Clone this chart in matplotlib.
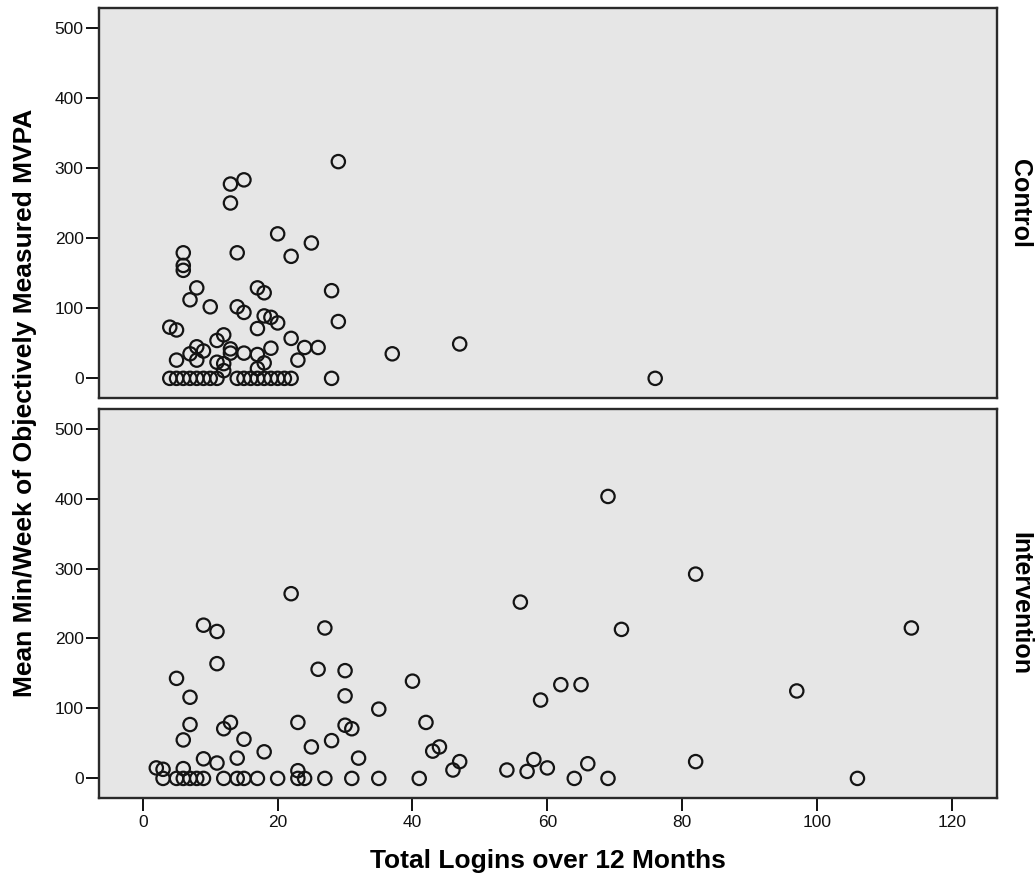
import matplotlib
matplotlib.use("Agg")
from matplotlib import pyplot as plt

plt.rcParams["font.family"] = ["Liberation Sans", "DejaVu Sans"]

# Control group: total logins vs mean min/week MVPA
ctrl_logins = [29, 15, 13, 13, 20, 25, 22, 14, 6, 6,
               6, 8, 7, 10, 17, 18, 28, 14, 15, 18,
               19, 20, 17, 29, 4, 5, 12, 11, 22, 24,
               26, 19, 8, 7, 9, 13, 13, 15, 17, 5,
               8, 11, 12, 23, 18, 12, 17, 28, 37, 47,
               76,
               4, 5, 6, 7, 8, 9, 10, 11,
               14, 15, 16, 17, 18, 19, 20, 21, 22]
ctrl_mvpa = [309, 283, 277, 250, 206, 193, 174, 179, 179, 161,
             154, 129, 112, 102, 129, 122, 125, 102, 94, 89,
             87, 79, 71, 81, 73, 69, 62, 54, 57, 44,
             44, 43, 45, 35, 39, 42, 36, 36, 34, 26,
             26, 23, 21, 26, 22, 11, 14, 0, 35, 49,
             0,
             0, 0, 0, 0, 0, 0, 0, 0,
             0, 0, 0, 0, 0, 0, 0, 0, 0]

# Intervention group
int_logins = [22, 9, 11, 27, 11, 26, 30, 5, 7, 30,
              35, 7, 13, 12, 23, 30, 31, 6, 15, 28,
              25, 18, 9, 14, 11, 32, 2, 3, 6, 23,
              3, 5, 6, 7, 8, 9, 12, 14, 15, 17,
              20, 23, 24, 27, 31, 35, 41, 64, 69,
              56, 71, 69, 82, 40, 42, 59, 62, 65, 43,
              44, 47, 46, 54, 57, 58, 60, 66, 82, 97,
              106, 114]
int_mvpa = [264, 219, 210, 215, 164, 156, 154, 143, 116, 118,
            99, 77, 80, 71, 80, 76, 71, 55, 56, 54,
            45, 38, 28, 29, 22, 29, 15, 13, 14, 11,
            0, 0, 0, 0, 0, 0, 0, 0, 0, 0,
            0, 0, 0, 0, 0, 0, 0, 0, 0,
            252, 213, 403, 292, 139, 80, 112, 134, 134, 39,
            45, 24, 12, 12, 10, 27, 15, 21, 24, 125,
            0, 215]

groups = ["Control", "Intervention"]
panels = [(ctrl_logins, ctrl_mvpa), (int_logins, int_mvpa)]
yticks = [0, 100, 200, 300, 400, 500]
xticks = [0, 20, 40, 60, 80, 100, 120]

fig = plt.figure(figsize=(10.36, 8.81), dpi=100)
left, width = 99 / 1036, 898 / 1036
boxes = [(1 - 398 / 881, 390 / 881), (1 - 798 / 881, 389 / 881)]

for i, (name, (xs, ys)) in enumerate(zip(groups, panels)):
    bottom, height = boxes[i]
    ax = fig.add_axes([left, bottom, width, height])
    ax.set_facecolor("#e6e6e6")
    ax.scatter(xs, ys, s=92, facecolors="none", edgecolors="#141414",
               linewidths=1.6, zorder=3)
    ax.set_xlim(-6.5, 126.7)
    ax.set_ylim(-28, 528)
    ax.set_yticks(yticks)
    ax.set_xticks(xticks)
    for sp in ax.spines.values():
        sp.set_linewidth(1.7)
        sp.set_color("#2a2a2a")
    ax.tick_params(axis="y", direction="out", length=9.5, width=1.4,
                   pad=1.5, labelsize=12.5, colors="#111111")
    if i == 0:
        ax.tick_params(axis="x", bottom=False, labelbottom=False)
    else:
        ax.tick_params(axis="x", direction="out", length=9.5, width=1.4,
                       pad=3, labelsize=12.5, colors="#111111")
    fig.text(1020 / 1036, bottom + height / 2, name, rotation=270,
             ha="center", va="center", fontsize=18, fontweight="bold")

fig.text(25 / 1036, 1 - 403 / 881, "Mean Min/Week of Objectively Measured MVPA",
         rotation=90, ha="center", va="center", fontsize=19, fontweight="bold")
fig.text(548 / 1036, 1 - 861 / 881, "Total Logins over 12 Months",
         ha="center", va="center", fontsize=19, fontweight="bold")

plt.savefig("out.png", dpi=100)
